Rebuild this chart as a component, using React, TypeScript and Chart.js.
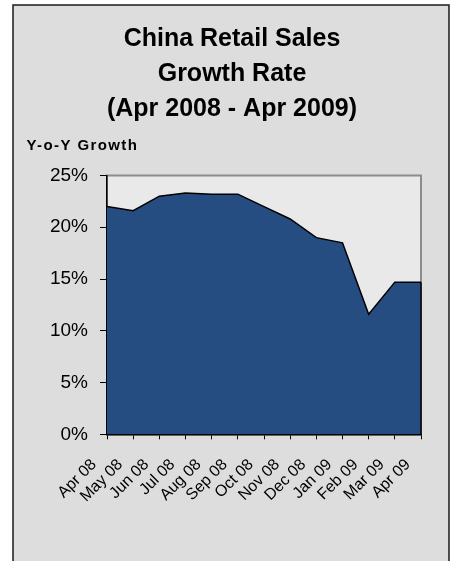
import React, { useEffect, useRef } from "react";
import { Chart, registerables } from "chart.js";

Chart.register(...registerables);

const categories = [
  "Apr 08", "May 08", "Jun 08", "Jul 08", "Aug 08", "Sep 08", "Oct 08",
  "Nov 08", "Dec 08", "Jan 09", "Feb 09", "Mar 09", "Apr 09",
];
const growth = [22.0, 21.6, 23.0, 23.3, 23.2, 23.2, 22.0, 20.8, 19.0, 18.5, 11.6, 14.7, 14.7];
const titleLines = ["China Retail Sales", "Growth Rate", "(Apr 2008 - Apr 2009)"];
const yAxisLabel = "Y-o-Y Growth";
const yMin = 0;
const yMax = 25;
const yStep = 5;

const FONT = "'Liberation Sans', Arial, sans-serif";

const framePlugin = {
  id: "frame",
  beforeDraw(chart: any) {
    const { ctx, chartArea, width, height } = chart;
    ctx.save();
    ctx.fillStyle = "#ffffff";
    ctx.fillRect(0, 0, width, height);
    ctx.fillStyle = "#dddddd";
    ctx.fillRect(13, 5, 436, height);
    ctx.strokeStyle = "#1a1a1a";
    ctx.lineWidth = 1.5;
    ctx.beginPath();
    ctx.moveTo(13, height + 2);
    ctx.lineTo(13, 5);
    ctx.lineTo(449, 5);
    ctx.lineTo(449, height + 2);
    ctx.stroke();
    ctx.fillStyle = "#e9e9e9";
    ctx.fillRect(chartArea.left, chartArea.top, chartArea.right - chartArea.left, chartArea.bottom - chartArea.top);
    ctx.strokeStyle = "#8c8c8c";
    ctx.lineWidth = 2;
    ctx.strokeRect(chartArea.left, chartArea.top, chartArea.right - chartArea.left, chartArea.bottom - chartArea.top);
    ctx.fillStyle = "#000";
    ctx.font = `bold 15px ${FONT}`;
    (ctx as any).letterSpacing = "1.4px";
    ctx.textAlign = "left";
    ctx.textBaseline = "alphabetic";
    ctx.fillText(yAxisLabel, 26.5, 150);
    ctx.restore();
  },
  afterDatasetsDraw(chart: any) {
    const { ctx, chartArea } = chart;
    const meta = chart.getDatasetMeta(0);
    const last = meta.data[meta.data.length - 1];
    if (!last) return;
    ctx.save();
    ctx.strokeStyle = "#000";
    ctx.lineWidth = 1.5;
    ctx.beginPath();
    ctx.moveTo(last.x, last.y);
    ctx.lineTo(last.x, chartArea.bottom);
    ctx.stroke();
    ctx.restore();
  },
};

export default function App() {
  const ref = useRef<HTMLCanvasElement>(null);

  useEffect(() => {
    if (!ref.current) return;
    const chart = new Chart(ref.current, {
      type: "line",
      data: {
        labels: categories,
        datasets: [
          {
            data: growth,
            fill: "origin",
            backgroundColor: "#264d82",
            borderColor: "#000000",
            borderWidth: 1.5,
            pointRadius: 0,
            tension: 0,
          },
        ],
      },
      options: {
        animation: false,
        responsive: false,
        devicePixelRatio: 1,
        layout: { padding: { left: 43, right: 32, top: 5, bottom: 26.7 } },
        plugins: {
          legend: { display: false },
          tooltip: { enabled: false },
          title: {
            display: true,
            text: titleLines,
            color: "#000",
            font: { family: FONT, size: 25, weight: "bold", lineHeight: 1.4 },
            padding: { top: 17, bottom: 48.5 },
          },
        },
        scales: {
          x: {
            type: "category",
            offset: false,
            z: 1,
            grid: {
              display: true,
              drawOnChartArea: false,
              drawTicks: true,
              tickLength: 5,
              color: "#000",
            },
            border: { display: true, color: "#000", width: 1.5 },
            ticks: {
              autoSkip: false,
              maxRotation: 45,
              minRotation: 45,
              color: "#000",
              padding: 16,
              labelOffset: -13,
              font: { family: FONT, size: 16 },
            },
            afterFit: (s: any) => {
              s.height = 100;
            },
          },
          y: {
            min: yMin,
            max: yMax,
            z: 1,
            grid: {
              display: true,
              drawOnChartArea: false,
              drawTicks: true,
              tickLength: 7,
              color: "#000",
            },
            border: { display: true, color: "#000", width: 1.5 },
            ticks: {
              stepSize: yStep,
              color: "#000",
              padding: 12,
              font: { family: FONT, size: 19 },
              callback: (v: any) => `${v}%`,
            },
            afterFit: (s: any) => {
              s.width = 64;
            },
          },
        },
      },
      plugins: [framePlugin],
    });
    return () => chart.destroy();
  }, []);

  return (
    <div style={{ position: "absolute", left: 0, top: 0, width: 453, height: 561 }}>
      <canvas ref={ref} width={453} height={561} style={{ display: "block", width: 453, height: 561 }} />
    </div>
  );
}
